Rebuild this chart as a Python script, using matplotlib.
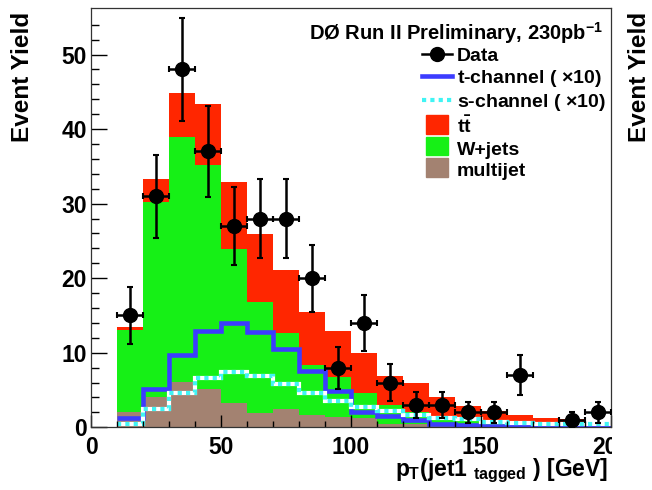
import numpy as np
import matplotlib
matplotlib.use('Agg')
import matplotlib.pyplot as plt
from matplotlib.lines import Line2D
from matplotlib.patches import Patch, Rectangle
from matplotlib.legend_handler import HandlerPatch
from matplotlib.transforms import Bbox

plt.rcParams['font.family'] = ['Liberation Sans', 'DejaVu Sans']
plt.rcParams['font.weight'] = 'bold'
plt.rcParams['mathtext.fontset'] = 'custom'
plt.rcParams['mathtext.rm'] = 'Liberation Sans:bold'
plt.rcParams['mathtext.it'] = 'Liberation Sans:bold'
plt.rcParams['mathtext.bf'] = 'Liberation Sans:bold'

# bins of 10 GeV from 10 to 200
edges = np.arange(10, 201, 10)
centers = np.array([15, 25, 35, 45, 55, 65, 75, 85, 95, 105,
                    115, 125, 135, 145, 155, 165, 185, 195])
data = np.array([15, 31, 48, 37, 27, 28, 28, 20, 8, 14,
                 6, 3, 3, 2, 2, 7, 1, 2])

multijet = np.array([2.0, 4.0, 6.1, 5.1, 3.2, 1.9, 2.5, 1.7, 1.4, 1.2,
                     0.45, 0.4, 0.3, 0.2, 0.15, 0.1, 0.1, 0.05, 0.05])
wjets = np.array([11.0, 26.2, 32.8, 30.1, 20.7, 14.9, 10.2, 6.7, 5.3, 3.4,
                  2.55, 1.6, 1.2, 0.9, 0.65, 0.5, 0.4, 0.35, 0.25])
ttbar = np.array([0.5, 3.1, 6.0, 8.2, 9.0, 9.1, 8.4, 7.0, 6.2, 5.3,
                  3.9, 4.0, 2.5, 1.8, 1.4, 1.05, 0.7, 0.65, 0.45])
tchan = np.array([1.2, 5.2, 9.7, 12.9, 14.0, 12.8, 10.5, 7.5, 4.9, 2.0,
                  1.5, 1.0, 0.5, 0.35, 0.2, 0.15, 0.15, 0.15, 0.15])
schan = np.array([0.4, 2.45, 4.6, 6.6, 7.4, 6.9, 5.8, 4.6, 3.55, 2.75,
                  2.2, 1.65, 1.3, 1.05, 0.65, 0.55, 0.5, 0.45, 0.4])

c_red = '#ff2600'
c_green = '#16f016'
c_brown = '#a38271'
c_blue = '#3c3cff'
c_cyan = '#40f4f4'

fig = plt.figure(figsize=(6.52, 4.9), dpi=100)
ax = fig.add_axes([91/652, 1-427.3/490, 520/652, 419/490])

# stacked backgrounds: draw cumulative totals, biggest first
ax.stairs(multijet + wjets + ttbar, edges, fill=True, color=c_red, lw=0)
ax.stairs(multijet + wjets, edges, fill=True, color=c_green, lw=0)
ax.stairs(multijet, edges, fill=True, color=c_brown, lw=0)

# signal (x10) lines
ax.stairs(tchan, edges, color=c_blue, lw=3.3, baseline=None)
ax.stairs(schan, edges, color='white', lw=3.0, baseline=None)
ax.stairs(schan, edges, color=c_cyan, lw=3.0, baseline=None,
          linestyle=(0, (1, 1)))

ax.errorbar(centers, data, xerr=5, yerr=np.sqrt(data), fmt='o', color='k',
            ms=10, elinewidth=1.8, capsize=2, capthick=1.5, zorder=5)

ax.set_xlim(0, 200)
ax.set_ylim(0, 56.2)
ax.set_xticks([0, 50, 100, 150, 200])
ax.set_xticklabels(['0', '50', '100', '150', '200'])
ax.set_xticks(np.arange(0, 201, 10), minor=True)
ax.set_yticks(np.arange(0, 51, 10))
ax.set_yticks(np.arange(0, 56, 2), minor=True)
ax.tick_params(which='both', direction='in', top=False, right=False,
               labelsize=16.5)
ax.tick_params(axis='y', which='major', length=11.5, width=1.0, pad=3)
ax.tick_params(axis='y', which='minor', length=5.8, width=1.0)
ax.tick_params(axis='x', which='major', length=9, width=1.0, pad=6)
ax.tick_params(axis='x', which='minor', length=4.5, width=1.0)
for s in ax.spines.values():
    s.set_linewidth(0.9)
    s.set_color('#333333')

# the "200" label is cut at the frame edge in the original
clip = Bbox.from_extents(0, 0, 612, 490)
lab = ax.get_xticklabels()[-1]
lab.set_clip_on(True)
lab.set_clip_box(clip)

fig.text(23/652, 1-12/490, 'Event Yield', rotation=90, ha='center',
         va='top', fontsize=17.5)
fig.text(640/652, 1-12/490, 'Event Yield', rotation=90, ha='center',
         va='top', fontsize=17.5)
fig.text(608/652, 1-476/490, r'$p_{T}$(jet1 $_{tagged}$ ) [GeV]',
         ha='right', va='baseline', fontsize=16.5)

ax.text(0.985, 0.972, r'DØ Run II Preliminary, 230pb$^{-1}$',
        transform=ax.transAxes, ha='right', va='top', fontsize=14.5)


def small_box(legend, orig_handle, xdescent, ydescent, width, height, fontsize):
    w = width * 0.72
    return Rectangle((xdescent + (width - w) / 2, ydescent - 1), w, height + 2)


handles = [
    Line2D([], [], color='k', marker='o', ms=10, lw=1.8),
    Line2D([], [], color=c_blue, lw=3.3),
    Line2D([], [], color=c_cyan, lw=3.0, linestyle=(0, (1, 1))),
    Patch(color=c_red),
    Patch(color=c_green),
    Patch(color=c_brown),
]
labels = ['Data', 't-channel ( $\\times$10)', 's-channel ( $\\times$10)',
          r'$\mathregular{t\bar{t}}$', 'W+jets', 'multijet']
leg = ax.legend(handles, labels, loc='upper left',
                bbox_to_anchor=(422/652, 1-47/490),
                bbox_transform=fig.transFigure, frameon=False, fontsize=14,
                handlelength=1.55, handleheight=0.85, handletextpad=0.25,
                labelspacing=0.15, borderpad=0, borderaxespad=0,
                handler_map={Patch: HandlerPatch(patch_func=small_box)})

fig.savefig('out.png', dpi=100)
